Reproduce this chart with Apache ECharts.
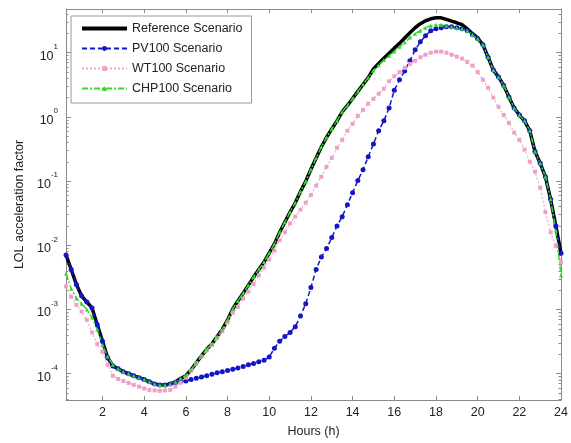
<!DOCTYPE html>
<html>
<head>
<meta charset="utf-8">
<script src="https://cdn.jsdelivr.net/npm/echarts@6/dist/echarts.min.js"></script>
<style>
html,body{margin:0;padding:0;background:#fff;}
#c{width:571px;height:443px;}
</style>
</head>
<body>
<div id="c"></div>
<script>
var hours = [0.25,0.5,0.75,1,1.25,1.5,1.75,2,2.25,2.5,2.75,3,3.25,3.5,3.75,4,4.25,4.5,4.75,5,5.25,5.5,5.75,6,6.25,6.5,6.75,7,7.25,7.5,7.75,8,8.25,8.5,8.75,9,9.25,9.5,9.75,10,10.25,10.5,10.75,11,11.25,11.5,11.75,12,12.25,12.5,12.75,13,13.25,13.5,13.75,14,14.25,14.5,14.75,15,15.25,15.5,15.75,16,16.25,16.5,16.75,17,17.25,17.5,17.75,18,18.25,18.5,18.75,19,19.25,19.5,19.75,20,20.25,20.5,20.75,21,21.25,21.5,21.75,22,22.25,22.5,22.75,23,23.25,23.5,23.75,24];

var seriesNames = ['Reference Scenario','PV100 Scenario','WT100 Scenario','CHP100 Scenario'];

var reference = [7.1e-3,4.2e-3,2.45e-3,1.63e-3,1.31e-3,1.06e-3,5.8e-4,3.2e-4,
1.78e-4,1.32e-4,1.2e-4,1.07e-4,
1.0e-4,9.3e-5,8.7e-5,8.1e-5,
7.5e-5,6.9e-5,6.7e-5,6.7e-5,
6.9e-5,7.5e-5,8.4e-5,9.3e-5,
1.15e-4,1.48e-4,1.9e-4,2.4e-4,
2.9e-4,3.8e-4,4.9e-4,6.9e-4,
1.02e-3,1.37e-3,1.8e-3,2.4e-3,
3.2e-3,4.2e-3,5.5e-3,7.6e-3,
1.05e-2,1.6e-2,2.3e-2,3.3e-2,
4.6e-2,6.9e-2,9.9e-2,0.153,
0.229,0.34,0.48,0.65,
0.87,1.2,1.51,1.94,
2.5,3.2,4.1,5.6,
6.8,8.2,9.8,11.8,
14,17,20.5,24.5,
28.3,31.5,33.8,35,
35,33,31,29.3,
27.3,23.6,19.8,17,
13.3,8.5,5.4,4.2,
3.1,2.05,1.38,1.07,
0.87,0.61,0.29,0.19,
0.117,5.2e-2,2.0e-2,7.5e-3];

var pv100 = [7.1e-3,4.2e-3,2.45e-3,1.63e-3,1.31e-3,1.06e-3,5.8e-4,3.2e-4,
1.78e-4,1.32e-4,1.2e-4,1.07e-4,
1.0e-4,9.3e-5,8.7e-5,8.1e-5,
7.5e-5,6.9e-5,6.7e-5,6.7e-5,
6.9e-5,7.3e-5,7.5e-5,7.7e-5,
8.1e-5,8.5e-5,8.9e-5,9.3e-5,
9.8e-5,1.04e-4,1.07e-4,1.12e-4,
1.18e-4,1.23e-4,1.3e-4,1.38e-4,
1.45e-4,1.54e-4,1.62e-4,1.82e-4,
2.5e-4,3.2e-4,3.8e-4,4.4e-4,
5.4e-4,7.9e-4,1.23e-3,2.2e-3,
4.2e-3,6.6e-3,8.9e-3,1.32e-2,
2.0e-2,2.8e-2,4.3e-2,6.6e-2,
0.102,0.15,0.24,0.38,
0.61,0.87,1.38,2.6,
3.8,5.2,7.5,11.1,
14.8,18.4,22,23.6,
24.5,25.4,25.4,24.5,
23.6,22,19.1,16.5,
13.3,8.5,5.4,4.2,
3.1,2.05,1.38,1.07,
0.87,0.61,0.29,0.19,
0.117,5.2e-2,2.0e-2,7.5e-3];

var wt100 = [2.3e-3,1.58e-3,1.18e-3,9.3e-4,6.9e-4,4.4e-4,2.9e-4,2.2e-4,
1.38e-4,9.3e-5,8.3e-5,7.7e-5,
7.2e-5,6.7e-5,6.3e-5,5.9e-5,
5.6e-5,5.5e-5,5.4e-5,5.5e-5,
5.6e-5,6.3e-5,7.2e-5,8.7e-5,
1.12e-4,1.45e-4,1.85e-4,2.3e-4,
2.8e-4,3.6e-4,4.6e-4,6.3e-4,
8.9e-4,1.1e-3,1.48e-3,1.9e-3,
2.5e-3,3.4e-3,4.5e-3,6.0e-3,
8.3e-3,1.2e-2,1.6e-2,2.2e-2,
2.8e-2,3.6e-2,4.6e-2,6.1e-2,
8.5e-2,0.117,0.167,0.23,
0.33,0.44,0.61,0.78,
1.04,1.29,1.61,1.92,
2.3,2.75,3.6,4.3,
5.0,5.8,6.7,7.5,
8.5,9.3,10,10.4,
10.4,10,9.3,8.7,
8.1,7.2,6.3,5.0,
3.8,2.85,2.0,1.44,
1.07,0.81,0.57,0.44,
0.31,0.20,0.14,7.9e-2,
3.3e-2,1.6e-2,9.8e-3,5.5e-3];

var chp100 = [3.6e-3,2.1e-3,1.5e-3,1.23e-3,1.0e-3,7.5e-4,4.9e-4,2.8e-4,
1.85e-4,1.38e-4,1.2e-4,1.07e-4,
1.0e-4,9.3e-5,8.7e-5,8.1e-5,
7.5e-5,6.9e-5,6.7e-5,6.7e-5,
6.9e-5,7.5e-5,8.4e-5,9.3e-5,
1.15e-4,1.48e-4,1.9e-4,2.4e-4,
2.9e-4,3.8e-4,4.9e-4,6.9e-4,
1.02e-3,1.37e-3,1.8e-3,2.4e-3,
3.2e-3,4.2e-3,5.5e-3,7.6e-3,
1.05e-2,1.6e-2,2.3e-2,3.3e-2,
4.6e-2,6.9e-2,9.9e-2,0.153,
0.229,0.34,0.48,0.65,
0.87,1.2,1.51,1.94,
2.5,3.2,4.1,5.3,
6.4,7.7,9.0,10.5,
12.4,14.4,17.2,19.8,
22,24.5,26.3,27.3,
27.3,26.3,25.4,24.5,
23.6,22,19.1,16.5,
13.3,8.5,5.4,4.2,
3.1,2.05,1.38,1.07,
0.87,0.61,0.29,0.19,
0.117,5.2e-2,1.7e-2,3.4e-3];

var xTicks = [2,4,6,8,10,12,14,16,18,20,22,24];
var yTicks = [1e-4,1e-3,1e-2,1e-1,1,10];
var yMinorTicks = [4e-5,5e-5,6e-5,7e-5,8e-5,9e-5,
2e-4,3e-4,4e-4,5e-4,6e-4,7e-4,8e-4,9e-4,
2e-3,3e-3,4e-3,5e-3,6e-3,7e-3,8e-3,9e-3,
2e-2,3e-2,4e-2,5e-2,6e-2,7e-2,8e-2,9e-2,
0.2,0.3,0.4,0.5,0.6,0.7,0.8,0.9,
2,3,4,5,6,7,8,9,20,30,40];

var X_MIN = 0.25, X_MAX = 24, Y_MIN = 3.9e-5, Y_MAX = 48;

function pairs(vals){ return hours.map(function(h,i){ return [h, vals[i]]; }); }

var axisColor = '#8a8a8a';
var textColor = '#222';
var font = 'Liberation Sans, Arial, sans-serif';

function yLabel(v){
  var e = Math.round(Math.log(v)/Math.LN10);
  return '{b|10}{e|' + e + '}';
}

var chart = echarts.init(document.getElementById('c'), null, {renderer:'canvas'});
var option = {
  animation:false,
  backgroundColor:'#fff',
  grid:{left:66, right:9, top:9, bottom:43, show:false},
  legend:{
    left:71, top:16,
    orient:'vertical',
    data:[
      {name:seriesNames[0], icon:'path://M0,0L45,0L45,4L0,4Z'},
      seriesNames[1], seriesNames[2], seriesNames[3]
    ],
    itemWidth:45, itemHeight:6, itemGap:7,
    padding:[6,9,8,10],
    backgroundColor:'#fff',
    borderColor:'#9a9a9a', borderWidth:1,
    textStyle:{fontFamily:font, fontSize:12.5, color:textColor}
  },
  xAxis:[{
    type:'value', min:X_MIN, max:X_MAX, position:'bottom',
    name:'Hours (h)', nameLocation:'middle', nameGap:25,
    nameTextStyle:{fontFamily:font, fontSize:12.5, color:textColor},
    axisLine:{show:true, lineStyle:{color:axisColor}},
    axisTick:{show:true, inside:true, length:4, customValues:xTicks, lineStyle:{color:axisColor}},
    axisLabel:{customValues:xTicks, fontFamily:font, fontSize:12.5, color:textColor, margin:6},
    splitLine:{show:false}
  },{
    type:'value', min:X_MIN, max:X_MAX, position:'top',
    axisLine:{show:true, lineStyle:{color:axisColor}},
    axisTick:{show:true, inside:true, length:4, customValues:xTicks, lineStyle:{color:axisColor}},
    axisLabel:{show:false},
    splitLine:{show:false}
  }],
  yAxis:[{
    type:'log', logBase:10, min:Y_MIN, max:Y_MAX, position:'left',
    name:'LOL acceleration factor', nameLocation:'middle', nameGap:40,
    nameTextStyle:{fontFamily:font, fontSize:12.5, color:textColor},
    axisLine:{show:true, lineStyle:{color:axisColor}},
    axisTick:{show:true, inside:true, length:5, customValues:yTicks, lineStyle:{color:axisColor}},
    axisLabel:{customValues:yTicks, formatter:yLabel, margin:8,
      rich:{
        b:{fontFamily:font, fontSize:12.5, color:textColor, lineHeight:20, verticalAlign:'bottom'},
        e:{fontFamily:font, fontSize:8, color:textColor, lineHeight:20, verticalAlign:'top'}
      }},
    splitLine:{show:false}
  },{
    type:'log', logBase:10, min:Y_MIN, max:Y_MAX, position:'left',
    axisLine:{show:false},
    axisTick:{show:true, inside:true, length:2.5, customValues:yMinorTicks, lineStyle:{color:axisColor}},
    axisLabel:{show:false},
    splitLine:{show:false}
  },{
    type:'log', logBase:10, min:Y_MIN, max:Y_MAX, position:'right',
    axisLine:{show:true, lineStyle:{color:axisColor}},
    axisTick:{show:true, inside:true, length:5, customValues:yTicks, lineStyle:{color:axisColor}},
    axisLabel:{show:false},
    splitLine:{show:false}
  },{
    type:'log', logBase:10, min:Y_MIN, max:Y_MAX, position:'right',
    axisLine:{show:false},
    axisTick:{show:true, inside:true, length:2.5, customValues:yMinorTicks, lineStyle:{color:axisColor}},
    axisLabel:{show:false},
    splitLine:{show:false}
  }],
  series:[{
    name:seriesNames[0], type:'line', data:pairs(reference),
    xAxisIndex:0, yAxisIndex:0,
    symbol:'none', smooth:false,
    lineStyle:{color:'#000', width:3.5},
    itemStyle:{color:'#000'}
  },{
    name:seriesNames[1], type:'line', data:pairs(pv100),
    xAxisIndex:0, yAxisIndex:0,
    symbol:'circle', symbolSize:5, showAllSymbol:true,
    lineStyle:{color:'#1414c8', width:1.5, type:[5,3]},
    itemStyle:{color:'#1414c8'}
  },{
    name:seriesNames[2], type:'line', data:pairs(wt100),
    xAxisIndex:0, yAxisIndex:0,
    symbol:'rect', symbolSize:4, showAllSymbol:true,
    lineStyle:{color:'#f2a6cc', width:1.2, type:[2,2]},
    itemStyle:{color:'#f0a0c8'}
  },{
    name:seriesNames[3], type:'line', data:pairs(chp100),
    xAxisIndex:0, yAxisIndex:0,
    symbol:'triangle', symbolSize:4, showAllSymbol:true,
    lineStyle:{color:'#33d633', width:1.5, type:[6,2,2,2]},
    itemStyle:{color:'#33d633'}
  }]
};
chart.setOption(option);
</script>
</body>
</html>
